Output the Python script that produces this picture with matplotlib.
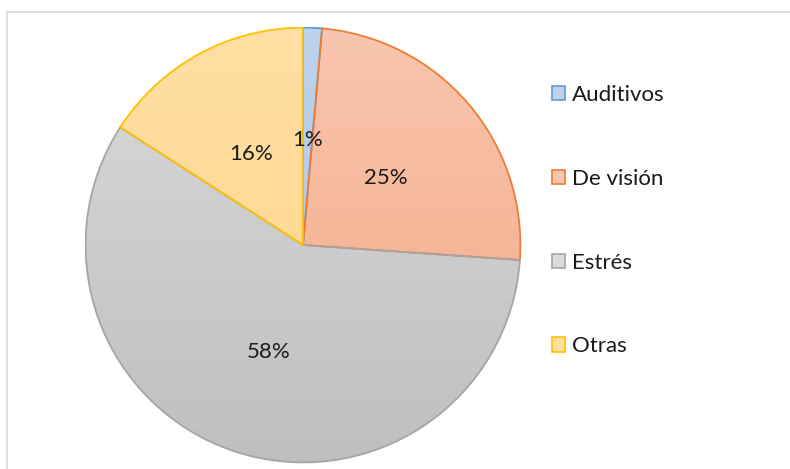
import numpy as np
import matplotlib
matplotlib.use("Agg")
import matplotlib.pyplot as plt
from matplotlib.patches import Rectangle, Wedge, Patch
from matplotlib.colors import LinearSegmentedColormap
from matplotlib.transforms import ScaledTranslation

categories = ["Auditivos", "De visión", "Estrés", "Otras"]
values = [1.4, 24.7, 58.0, 15.9]
light_colors = ["#BED2EC", "#F8C6B0", "#DADADA", "#FFDFA4"]
dark_colors = ["#A9C3E5", "#F4A682", "#BFBFBF", "#FFD587"]
edge_colors = ["#5B9BD5", "#ED7D31", "#A5A5A5", "#FFC000"]

W, H = 790, 469
fig = plt.figure(figsize=(W / 100, H / 100), dpi=100)
fig.patch.set_facecolor("white")

# chart frame
fig.add_artist(Rectangle((7 / W, -0.05), 1.1, 1 - 12 / H + 0.05,
                         transform=fig.transFigure, fill=False,
                         edgecolor="#D9D9D9", linewidth=1.2))

cx, cy, r = 303, 245, 218.5
ax = fig.add_axes([(cx - r) / W, (H - cy - r) / H, 2 * r / W, 2 * r / H])

font = "Lato"
wedges, texts, autotexts = ax.pie(
    values, startangle=90, counterclock=False, radius=1,
    colors=dark_colors, autopct="%1.0f%%", pctdistance=0.5,
    wedgeprops=dict(edgecolor="none", linewidth=0),
    textprops=dict(fontsize=16, color="#1a1a1a", family=font))

grad = np.linspace(0, 1, 256).reshape(-1, 1)
for w, lc, dc, ec in zip(wedges, light_colors, dark_colors, edge_colors):
    cmap = LinearSegmentedColormap.from_list("g", [lc, dc])
    im = ax.imshow(grad, cmap=cmap, extent=[-1, 1, -1, 1], origin="upper",
                   aspect="auto", zorder=1.5)
    im.set_clip_path(w)
    w.set_zorder(1)
    ax.add_patch(Wedge((0, 0), 1, w.theta1, w.theta2, facecolor="none",
                       edgecolor=ec, linewidth=1.3, zorder=2))
offset = ScaledTranslation(0, -4 / 100, fig.dpi_scale_trans)
for t in autotexts:
    t.set_zorder(5)
    t.set_transform(ax.transData + offset)

ax.set_xlim(-1.005, 1.005)
ax.set_ylim(-1.005, 1.005)
ax.set_aspect("equal")
ax.axis("off")

# legend
handles = [Patch(facecolor=lc, edgecolor=ec, linewidth=1.2)
           for lc, ec in zip(light_colors, edge_colors)]
leg = fig.legend(handles, categories, loc="upper left",
                 bbox_to_anchor=(552 / W, 1 - 85 / H), frameon=False,
                 prop=dict(family=font, size=16), handlelength=0.6,
                 handleheight=0.6, handletextpad=0.3, labelspacing=2.87,
                 borderpad=0, borderaxespad=0)
for t in leg.get_texts():
    t.set_color("#1a1a1a")

fig.savefig("out.png", dpi=100)
